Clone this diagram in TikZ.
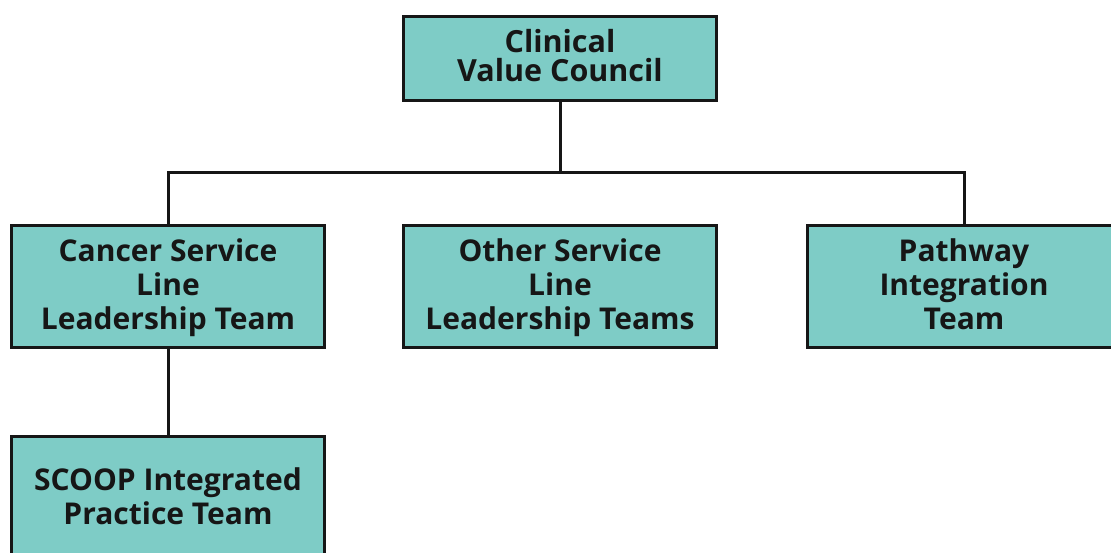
\documentclass[tikz,border=0pt]{standalone}
\usepackage{fontspec}
\setmainfont{Open Sans}
\definecolor{teal}{HTML}{7ECCC6}
\definecolor{ink}{HTML}{161616}
\newcommand\topst[1]{\rule{0pt}{#1}}
\begin{document}
\begin{tikzpicture}[x=1pt,y=-1pt,
  box/.style={draw=ink,line width=3pt,fill=teal,inner sep=0pt,
    minimum width=313pt,minimum height=122pt,align=center,
    font=\fontsize{30}{34}\selectfont\bfseries,text=ink},
  link/.style={draw=ink,line width=3pt}]
\useasboundingbox (0,0) rectangle (1111,552);
\clip (0,0) rectangle (1111,552);
\node[box,minimum height=84pt,font=\fontsize{30.5}{29}\selectfont\bfseries] (cvc) at (560,58.5) {\topst{26pt}Clinical\\Value Council\strut};
\node[box] (cancer) at (168,286.5) {\topst{29pt}Cancer Service\\Line\\Leadership Team\strut};
\node[box] (other) at (560,286.5) {\topst{29pt}Other Service\\Line\\Leadership Teams\strut};
\node[box] (path) at (964,286.5) {\topst{29pt}Pathway\\Integration\\Team\strut};
\node[box] (scoop) at (168,497.5) {\topst{30pt}SCOOP Integrated\\Practice Team\strut};
\coordinate (bar) at (560,172);
\draw[link] (cvc.south) -- (bar);
\draw[link] (cancer.north) |- (bar) -| (path.north);
\draw[link] (cancer.south) -- (scoop.north);
\end{tikzpicture}
\end{document}
